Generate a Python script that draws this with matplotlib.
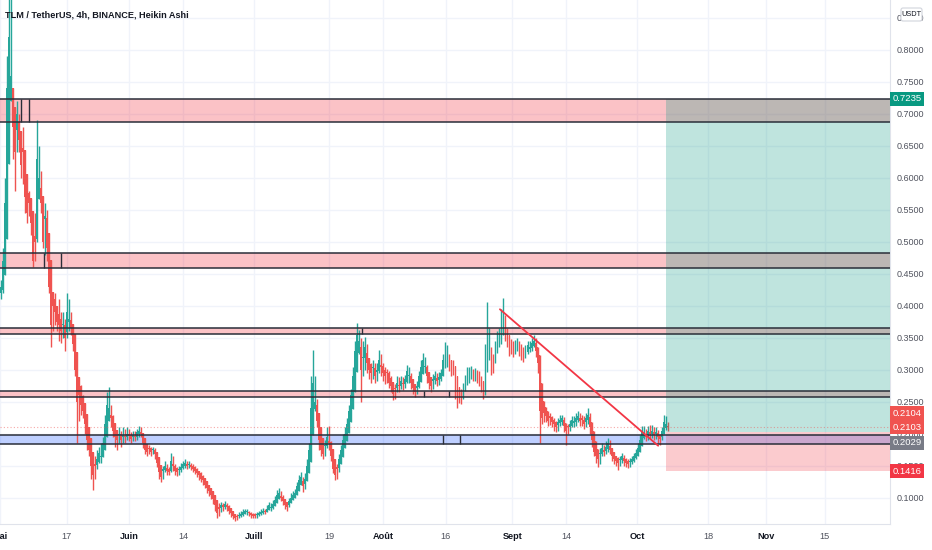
import matplotlib
matplotlib.use('Agg')
import matplotlib.pyplot as plt
import matplotlib.dates as mdates
from matplotlib.patches import Rectangle, FancyBboxPatch
from matplotlib.transforms import IdentityTransform
import numpy as np
import pandas as pd

plt.rcParams['font.family'] = ['Liberation Sans Narrow', 'Liberation Sans', 'DejaVu Sans']

# ---------------- data ----------------
title = 'TLM / TetherUS, 4h, BINANCE, Heikin Ashi'
candle_start = '2021-05-01 04:00'
candle_end = '2021-10-08 08:00'
first_open = 0.42

close = [
    0.43, 0.47, 0.56, 0.74, 0.82, 0.76, 0.68, 0.64, 0.70, 0.66,
    0.62, 0.64, 0.57, 0.545, 0.56, 0.53, 0.47, 0.50, 0.63, 0.60,
    0.56, 0.50, 0.54, 0.49, 0.43, 0.37, 0.40, 0.39, 0.375, 0.37,
    0.36, 0.37, 0.35, 0.39, 0.38, 0.365, 0.34, 0.30, 0.25, 0.26,
    0.245, 0.235, 0.215, 0.19, 0.175, 0.15, 0.135, 0.15, 0.16, 0.17,
    0.165, 0.185, 0.215, 0.245, 0.24, 0.225, 0.205, 0.195, 0.19, 0.20,
    0.19, 0.198, 0.195, 0.20, 0.197, 0.192, 0.198, 0.195, 0.202, 0.205,
    0.20, 0.185, 0.175, 0.172, 0.176, 0.172, 0.175, 0.168, 0.155, 0.14,
    0.132, 0.145, 0.15, 0.142, 0.14, 0.158, 0.15, 0.142, 0.14, 0.144,
    0.148, 0.152, 0.154, 0.15, 0.152, 0.148, 0.145, 0.142, 0.138, 0.135,
    0.13, 0.128, 0.12, 0.115, 0.11, 0.105, 0.098, 0.088, 0.076, 0.082,
    0.088, 0.086, 0.09, 0.085, 0.08, 0.076, 0.071, 0.068, 0.07, 0.073,
    0.075, 0.077, 0.079, 0.078, 0.076, 0.073, 0.071, 0.072, 0.074, 0.076,
    0.078, 0.08, 0.078, 0.083, 0.088, 0.085, 0.09, 0.096, 0.104, 0.108,
    0.10, 0.095, 0.088, 0.085, 0.095, 0.10, 0.104, 0.108, 0.118, 0.128,
    0.132, 0.118, 0.13, 0.15, 0.175, 0.24, 0.28, 0.25, 0.22, 0.19,
    0.175, 0.168, 0.182, 0.195, 0.185, 0.165, 0.145, 0.135, 0.145, 0.16,
    0.175, 0.19, 0.20, 0.215, 0.235, 0.26, 0.29, 0.33, 0.355, 0.345,
    0.30, 0.32, 0.335, 0.31, 0.30, 0.295, 0.305, 0.29, 0.30, 0.315,
    0.305, 0.295, 0.29, 0.295, 0.28, 0.275, 0.262, 0.27, 0.28, 0.275,
    0.282, 0.278, 0.285, 0.298, 0.29, 0.28, 0.272, 0.265, 0.275, 0.29,
    0.305, 0.315, 0.305, 0.29, 0.28, 0.275, 0.285, 0.29, 0.282, 0.288,
    0.295, 0.315, 0.335, 0.32, 0.31, 0.30, 0.305, 0.275, 0.255, 0.262,
    0.258, 0.27, 0.285, 0.296, 0.29, 0.298, 0.29, 0.295, 0.292, 0.285,
    0.275, 0.262, 0.32, 0.36, 0.33, 0.305, 0.315, 0.335, 0.35, 0.345,
    0.37, 0.38, 0.36, 0.345, 0.335, 0.34, 0.33, 0.338, 0.34, 0.335,
    0.325, 0.32, 0.33, 0.338, 0.335, 0.342, 0.345, 0.33, 0.31, 0.235,
    0.225, 0.232, 0.228, 0.22, 0.225, 0.218, 0.215, 0.21, 0.218, 0.222,
    0.225, 0.212, 0.205, 0.21, 0.215, 0.222, 0.218, 0.225, 0.228, 0.22,
    0.222, 0.215, 0.225, 0.23, 0.21, 0.19, 0.172, 0.165, 0.16, 0.17,
    0.178, 0.172, 0.18, 0.185, 0.175, 0.165, 0.16, 0.158, 0.155, 0.16,
    0.165, 0.158, 0.155, 0.153, 0.156, 0.16, 0.165, 0.17, 0.178, 0.19,
    0.205, 0.20, 0.195, 0.205, 0.20, 0.205, 0.198, 0.202, 0.195, 0.192,
    0.205, 0.218, 0.215, 0.2103,
]
high = [
    0.44, 0.49, 0.60, 0.79, 0.92, 0.88, 0.74, 0.71, 0.72, 0.70,
    0.67, 0.68, 0.62, 0.57, 0.58, 0.56, 0.53, 0.545, 0.69, 0.65,
    0.61, 0.565, 0.56, 0.55, 0.48, 0.435, 0.42, 0.42, 0.40, 0.41,
    0.39, 0.39, 0.38, 0.42, 0.41, 0.39, 0.365, 0.34, 0.30, 0.275,
    0.276, 0.26, 0.235, 0.22, 0.20, 0.18, 0.16, 0.165, 0.175, 0.18,
    0.185, 0.195, 0.23, 0.265, 0.273, 0.245, 0.23, 0.21, 0.205, 0.21,
    0.205, 0.21, 0.208, 0.21, 0.207, 0.203, 0.205, 0.205, 0.208, 0.212,
    0.21, 0.20, 0.19, 0.18, 0.182, 0.18, 0.18, 0.177, 0.168, 0.158,
    0.145, 0.15, 0.158, 0.152, 0.148, 0.17, 0.165, 0.152, 0.148, 0.15,
    0.155, 0.158, 0.16, 0.158, 0.157, 0.155, 0.152, 0.15, 0.146, 0.142,
    0.14, 0.135, 0.13, 0.125, 0.12, 0.115, 0.108, 0.10, 0.09, 0.092,
    0.094, 0.092, 0.095, 0.092, 0.088, 0.083, 0.078, 0.074, 0.075, 0.078,
    0.08, 0.082, 0.083, 0.082, 0.08, 0.078, 0.076, 0.076, 0.078, 0.08,
    0.082, 0.084, 0.083, 0.088, 0.094, 0.092, 0.096, 0.102, 0.112, 0.115,
    0.11, 0.104, 0.098, 0.092, 0.10, 0.108, 0.11, 0.114, 0.125, 0.135,
    0.14, 0.132, 0.138, 0.16, 0.185, 0.29, 0.331, 0.29, 0.255, 0.225,
    0.195, 0.185, 0.19, 0.21, 0.212, 0.188, 0.168, 0.15, 0.152, 0.168,
    0.182, 0.20, 0.21, 0.225, 0.245, 0.27, 0.305, 0.345, 0.373, 0.362,
    0.35, 0.345, 0.351, 0.34, 0.318, 0.31, 0.315, 0.31, 0.31, 0.331,
    0.325, 0.31, 0.305, 0.302, 0.298, 0.29, 0.28, 0.278, 0.29, 0.288,
    0.29, 0.288, 0.292, 0.307, 0.305, 0.295, 0.285, 0.278, 0.283, 0.298,
    0.315, 0.326, 0.32, 0.308, 0.295, 0.288, 0.293, 0.298, 0.295, 0.296,
    0.302, 0.325, 0.343, 0.338, 0.325, 0.315, 0.315, 0.305, 0.28, 0.272,
    0.27, 0.28, 0.292, 0.304, 0.304, 0.306, 0.302, 0.303, 0.30, 0.298,
    0.29, 0.28, 0.34, 0.406, 0.365, 0.335, 0.325, 0.345, 0.36, 0.365,
    0.395, 0.413, 0.385, 0.365, 0.35, 0.348, 0.345, 0.346, 0.35, 0.345,
    0.34, 0.335, 0.338, 0.345, 0.345, 0.35, 0.355, 0.35, 0.335, 0.31,
    0.24, 0.24, 0.236, 0.232, 0.232, 0.228, 0.225, 0.22, 0.225, 0.23,
    0.23, 0.226, 0.215, 0.215, 0.222, 0.228, 0.228, 0.232, 0.236, 0.232,
    0.23, 0.228, 0.232, 0.24, 0.232, 0.212, 0.192, 0.178, 0.17, 0.178,
    0.185, 0.182, 0.188, 0.193, 0.19, 0.178, 0.17, 0.166, 0.163, 0.166,
    0.17, 0.167, 0.162, 0.16, 0.162, 0.166, 0.17, 0.176, 0.185, 0.198,
    0.212, 0.212, 0.208, 0.212, 0.213, 0.214, 0.21, 0.21, 0.206, 0.20,
    0.21, 0.229, 0.228, 0.218,
]
low = [
    0.41, 0.42, 0.47, 0.56, 0.74, 0.72, 0.63, 0.58, 0.64, 0.64,
    0.60, 0.59, 0.545, 0.53, 0.54, 0.51, 0.46, 0.47, 0.50, 0.58,
    0.545, 0.49, 0.48, 0.47, 0.42, 0.335, 0.36, 0.37, 0.36, 0.345,
    0.342, 0.35, 0.33, 0.35, 0.36, 0.355, 0.33, 0.29, 0.185, 0.22,
    0.23, 0.225, 0.20, 0.175, 0.165, 0.13, 0.112, 0.13, 0.145, 0.155,
    0.155, 0.165, 0.18, 0.21, 0.225, 0.21, 0.195, 0.18, 0.175, 0.185,
    0.18, 0.185, 0.186, 0.19, 0.188, 0.185, 0.188, 0.188, 0.19, 0.195,
    0.195, 0.178, 0.168, 0.165, 0.168, 0.165, 0.168, 0.16, 0.148, 0.13,
    0.124, 0.13, 0.14, 0.136, 0.135, 0.14, 0.142, 0.136, 0.134, 0.136,
    0.14, 0.145, 0.147, 0.145, 0.146, 0.143, 0.14, 0.137, 0.132, 0.128,
    0.125, 0.12, 0.115, 0.108, 0.103, 0.098, 0.09, 0.08, 0.068, 0.072,
    0.078, 0.08, 0.082, 0.08, 0.074, 0.07, 0.066, 0.064, 0.065, 0.068,
    0.07, 0.072, 0.074, 0.073, 0.072, 0.069, 0.068, 0.068, 0.069, 0.071,
    0.073, 0.075, 0.074, 0.077, 0.081, 0.08, 0.083, 0.088, 0.094, 0.10,
    0.095, 0.088, 0.082, 0.079, 0.085, 0.094, 0.097, 0.10, 0.106, 0.115,
    0.122, 0.109, 0.114, 0.13, 0.148, 0.172, 0.235, 0.235, 0.21, 0.175,
    0.165, 0.16, 0.165, 0.178, 0.175, 0.158, 0.138, 0.128, 0.13, 0.14,
    0.155, 0.17, 0.185, 0.195, 0.21, 0.232, 0.255, 0.285, 0.32, 0.325,
    0.25, 0.29, 0.30, 0.295, 0.285, 0.28, 0.285, 0.28, 0.282, 0.295,
    0.29, 0.282, 0.278, 0.28, 0.272, 0.265, 0.252, 0.255, 0.265, 0.266,
    0.27, 0.268, 0.272, 0.28, 0.28, 0.27, 0.262, 0.257, 0.262, 0.272,
    0.285, 0.30, 0.295, 0.28, 0.27, 0.265, 0.27, 0.278, 0.275, 0.276,
    0.282, 0.29, 0.31, 0.305, 0.298, 0.29, 0.292, 0.255, 0.24, 0.248,
    0.247, 0.255, 0.268, 0.28, 0.28, 0.285, 0.282, 0.283, 0.28, 0.275,
    0.265, 0.255, 0.26, 0.31, 0.315, 0.292, 0.295, 0.31, 0.33, 0.335,
    0.34, 0.355, 0.345, 0.335, 0.322, 0.325, 0.32, 0.325, 0.33, 0.322,
    0.315, 0.312, 0.318, 0.325, 0.328, 0.33, 0.335, 0.32, 0.295, 0.185,
    0.215, 0.218, 0.218, 0.212, 0.213, 0.21, 0.205, 0.203, 0.205, 0.212,
    0.214, 0.202, 0.182, 0.20, 0.205, 0.21, 0.21, 0.212, 0.218, 0.212,
    0.212, 0.208, 0.21, 0.215, 0.20, 0.18, 0.165, 0.155, 0.148, 0.152,
    0.165, 0.165, 0.168, 0.172, 0.168, 0.158, 0.152, 0.15, 0.143, 0.15,
    0.155, 0.15, 0.148, 0.147, 0.148, 0.152, 0.156, 0.16, 0.168, 0.176,
    0.188, 0.192, 0.188, 0.19, 0.192, 0.194, 0.19, 0.192, 0.185, 0.182,
    0.19, 0.20, 0.206, 0.205,
]

# horizontal zones
zone_low = [0.687, 0.4587, 0.3555, 0.2574, 0.1840]
zone_high = [0.7235, 0.4831, 0.3649, 0.2668, 0.1976]
zone_kind = ['supply', 'supply', 'supply', 'supply', 'demand']
zone_marks = [
    ['2021-05-06 01:00', '2021-05-07 23:00'],
    ['2021-05-11 15:00', '2021-05-15 16:00'],
    ['2021-07-27 00:00'],
    ['2021-08-10 21:00', '2021-08-16 21:00'],
    ['2021-08-15 10:00', '2021-08-19 12:00'],
]

# trend line
trend_dates = ['2021-08-29 01:00', '2021-10-06 01:00']
trend_values = [0.3946, 0.1813]

# long position
pos_start = '2021-10-07 22:00'
pos_entry = 0.2029
pos_target = 0.7235
pos_stop = 0.1416

last_price = 0.2103

# price-scale labels
label_values = [0.7235, 0.2104, 0.2103, 0.2029, 0.1416]
label_colors = ['#089981', '#f05350', '#f05350', '#787b86', '#f23645']
label_shift_px = [0, 14, 0, -11, 0]

# axes
x_start = '2021-05-01 00:00'
x_end = '2021-11-30 17:00'
y_min, y_max = 0.0597, 0.8781
price_ticks = [0.10, 0.15, 0.20, 0.25, 0.30, 0.35, 0.40, 0.45, 0.50, 0.55,
               0.60, 0.65, 0.70, 0.75, 0.80, 0.85]
tick_dates = ['2021-05-01', '2021-05-17', '2021-06-01', '2021-06-14', '2021-07-01',
              '2021-07-19', '2021-08-01', '2021-08-16', '2021-09-01', '2021-09-14',
              '2021-10-01', '2021-10-18', '2021-11-01', '2021-11-15']
tick_labels = ['Mai', '17', 'Juin', '14', 'Juill', '19', 'Août', '16', 'Sept', '14',
               'Oct', '18', 'Nov', '15']
month_labels = {'Mai', 'Juin', 'Juill', 'Août', 'Sept', 'Oct', 'Nov'}

# ---------------- styles ----------------
GREEN = '#26a69a'
RED = '#ef5350'
GRID = '#f0f3fa'
BORDER = '#2a2e39'
AXIS_TXT = '#50535e'

W, H = 932, 550
fig = plt.figure(figsize=(W / 100, H / 100), dpi=100)
fig.patch.set_facecolor('white')
ax = fig.add_axes([0, 26.5 / H, 890 / W, 523.5 / H])
ax.set_facecolor('white')

d = lambda s: mdates.date2num(pd.Timestamp(s))
x0, x1 = d(x_start), d(x_end)
ax.set_xlim(x0, x1)
ax.set_ylim(y_min, y_max)

# grid
for td in tick_dates:
    ax.axvline(d(td), color=GRID, lw=1, zorder=0)
for pt in price_ticks:
    ax.axhline(pt, color=GRID, lw=1, zorder=0)

# Heikin Ashi candles: open is the midpoint of the previous candle's body
n = min(len(close), len(high), len(low))
times = pd.date_range(candle_start, candle_end, periods=n)
xs = mdates.date2num(times.to_pydatetime())
c = np.array(close[:n])
o = np.empty(n)
o[0] = first_open
for i in range(1, n):
    o[i] = (o[i - 1] + c[i - 1]) / 2.0
hh = np.array(high[:n])
ll = np.array(low[:n])
up = c >= o
cols = np.where(up, GREEN, RED)
top = np.maximum(hh, np.maximum(o, c))
bot = np.minimum(ll, np.minimum(o, c))
ax.vlines(xs, bot, top, colors=cols, lw=1.0, zorder=3)
ax.bar(xs, np.maximum(np.abs(c - o), 0.002), width=0.42, bottom=np.minimum(o, c),
       color=cols, linewidth=0, zorder=3)

# zones
for lo, hi, kind, marks in zip(zone_low, zone_high, zone_kind, zone_marks):
    fc = '#f23645' if kind == 'supply' else '#2962ff'
    ax.add_patch(Rectangle((x0, lo), x1 - x0, hi - lo, facecolor=fc, alpha=0.3,
                           edgecolor='none', zorder=2))
    ax.axhline(lo, color=BORDER, lw=1.1, zorder=6)
    ax.axhline(hi, color=BORDER, lw=1.1, zorder=6)
    for m in marks:
        ax.vlines(d(m), lo, hi, color=BORDER, lw=1.0, zorder=6)

# long position box
ps = d(pos_start)
ax.add_patch(Rectangle((ps, pos_entry), x1 - ps, pos_target - pos_entry,
                       facecolor='#089981', alpha=0.26, edgecolor='none', zorder=4))
ax.add_patch(Rectangle((ps, pos_stop), x1 - ps, pos_entry - pos_stop,
                       facecolor='#f23645', alpha=0.26, edgecolor='none', zorder=4))

# last price dotted line
ax.axhline(last_price, color=RED, lw=0.8, alpha=0.5, linestyle=(0, (1, 2)), zorder=5)

# trend line
ax.plot([d(t) for t in trend_dates], trend_values, color='#f23645', lw=1.3, zorder=7,
        solid_capstyle='round')

# axes styling
for s in ['top', 'left']:
    ax.spines[s].set_visible(False)
ax.spines['right'].set_color('#e0e3eb')
ax.spines['bottom'].set_color('#e0e3eb')
ax.yaxis.tick_right()
ax.set_yticks(price_ticks)
ax.set_yticklabels([f'{p:.4f}' for p in price_ticks])
ax.tick_params(axis='y', length=0, pad=5, labelsize=6.5, labelcolor=AXIS_TXT)
ax.set_xticks([d(t) for t in tick_dates])
ax.set_xticklabels(tick_labels)
ax.tick_params(axis='x', length=0, pad=6, labelsize=6.6)
for lab in ax.get_xticklabels():
    if lab.get_text() in month_labels:
        lab.set_fontweight('bold')
        lab.set_color('#131722')
    else:
        lab.set_color(AXIS_TXT)

# price-scale labels
for v, col, sh in zip(label_values, label_colors, label_shift_px):
    ypx = ax.transData.transform((x0, v))[1] + sh
    fig.add_artist(Rectangle((890, ypx - 7), 34, 14, transform=IdentityTransform(),
                             facecolor=col, edgecolor='none', zorder=10))
    fig.text(907 / W, ypx / H, f'{v:.4f}', color='white', ha='center', va='center',
             fontsize=6.8, zorder=11)

# USDT box
fig.add_artist(FancyBboxPatch((901, H - 21), 21, 13, boxstyle='round,pad=0,rounding_size=2',
                              transform=IdentityTransform(), facecolor='white',
                              edgecolor='#d1d4dc', lw=0.8, zorder=10))
fig.text(911.5 / W, (H - 14.5) / H, 'USDT', ha='center', va='center', fontsize=5.3,
         color='#131722', zorder=11)

# title
fig.text(5 / W, 1 - 15 / H, title, ha='left', va='center', fontsize=6.6,
         fontweight='bold', color='#131722', zorder=12)

fig.savefig('out.png', dpi=100, facecolor='white')
